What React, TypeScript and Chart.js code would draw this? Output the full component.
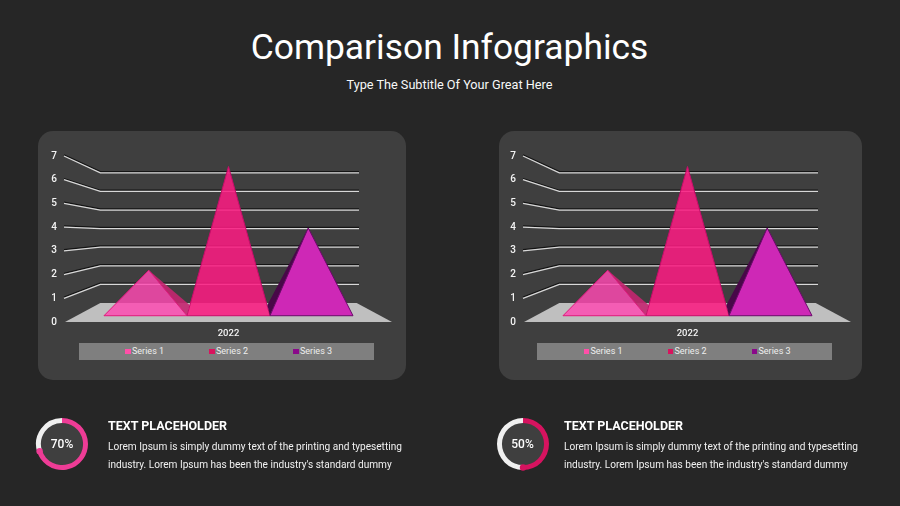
import { useEffect, useRef } from 'react'
import Chart from 'chart.js/auto'

const years = ['2022']
const seriesNames = ['Series 1', 'Series 2', 'Series 3']
const series1 = [2]
const series2 = [6.9]
const series3 = [4]
const yTicksMax = 7

const faceColors = ['rgba(255, 73, 178, 0.83)', 'rgba(250, 28, 130, 0.88)', 'rgb(206, 40, 182)']
const edgeColors = ['#e0187c', '#c80c6a', '#6a0a6a']
const sideColors = ['rgba(196, 38, 112, 0.9)', 'rgba(196, 12, 100, 0.9)', '#480848']
const legendColors = ['#ff4fa8', '#d8145e', '#8a0a8a']

const donutLeft = [70, 30]
const donutRight = [50, 50]

// depth 0 = front of the floor, 1 = back wall
const FLOOR_RISE = 19
const SHRINK = 0.216
const BASE_DEPTH = 0.33
const APEX_DEPTH = 0.5
const WALL_END = 359 - 65

const pyramidPlugin = {
  id: 'pyramids',
  beforeDatasetsDraw(chart: any) {
    const { ctx, chartArea, scales } = chart
    const y0 = scales.y.getPixelForValue(0)
    const midX = (chartArea.left + chartArea.right) / 2
    const planeY = (p: number, d: number) => y0 - FLOOR_RISE * d + (p - y0) * (1 - SHRINK * d)
    const planeX = (x: number, d: number) => midX + (x - midX) * (1 - SHRINK * d)

    // floor
    ctx.save()
    ctx.fillStyle = '#bfbfbf'
    ctx.beginPath()
    ctx.moveTo(chartArea.left, y0)
    ctx.lineTo(chartArea.right, y0)
    ctx.lineTo(planeX(chartArea.right, 1), planeY(y0, 1))
    ctx.lineTo(planeX(chartArea.left, 1), planeY(y0, 1))
    ctx.closePath()
    ctx.fill()

    // wall lines, with the dark shadow above them
    const backLeft = planeX(chartArea.left, 1)
    const backRight = backLeft + WALL_END - (backLeft - chartArea.left)
    scales.y.ticks.forEach((t: any) => {
      if (t.value === 0) return
      const front = scales.y.getPixelForValue(t.value)
      const back = planeY(front, 1)
      const stroke = (off: number, color: string) => {
        ctx.strokeStyle = color
        ctx.lineWidth = 1.3
        ctx.beginPath()
        ctx.moveTo(chartArea.left - 1, front + off)
        ctx.lineTo(backLeft, back + off)
        ctx.lineTo(backRight, back + off)
        ctx.stroke()
      }
      stroke(-1.2, '#141414')
      stroke(0, '#d8d8d8')
    })
    ctx.restore()
  },
  afterDatasetsDraw(chart: any) {
    const { ctx, chartArea, scales } = chart
    const y0 = scales.y.getPixelForValue(0)
    const midX = (chartArea.left + chartArea.right) / 2
    const planeY = (p: number, d: number) => y0 - FLOOR_RISE * d + (p - y0) * (1 - SHRINK * d)
    const planeX = (x: number, d: number) => midX + (x - midX) * (1 - SHRINK * d)

    chart.data.datasets.forEach((ds: any, i: number) => {
      const bar = chart.getDatasetMeta(i).data[0]
      const half = bar.width / 2
      const left = planeX(bar.x - half, BASE_DEPTH)
      const right = planeX(bar.x + half, BASE_DEPTH)
      const base = planeY(y0, BASE_DEPTH)
      const apexX = planeX(bar.x, APEX_DEPTH)
      const apexY = planeY(bar.y, APEX_DEPTH)
      const backY = planeY(y0, 0.9)

      // side face on the side that turns towards the middle
      if (i !== 1) {
        const edge = i === 0 ? bar.x + half : bar.x - half
        const near = i === 0 ? right : left
        ctx.fillStyle = sideColors[i]
        ctx.beginPath()
        ctx.moveTo(apexX, apexY)
        ctx.lineTo(planeX(edge, 0.6), backY)
        ctx.lineTo(near, base)
        ctx.closePath()
        ctx.fill()
      }

      ctx.fillStyle = ds.faceColor
      ctx.strokeStyle = edgeColors[i]
      ctx.lineWidth = 1
      ctx.lineJoin = 'round'
      ctx.beginPath()
      ctx.moveTo(apexX, apexY)
      ctx.lineTo(right, base)
      ctx.lineTo(left, base)
      ctx.closePath()
      ctx.fill()
      ctx.stroke()
    })
  },
}

// little round blob where the coloured arc ends
const arcEndPlugin = {
  id: 'arcEnd',
  afterDatasetsDraw(chart: any) {
    const arc = chart.getDatasetMeta(0).data[0]
    const r = (arc.innerRadius + arc.outerRadius) / 2
    const { ctx } = chart
    ctx.fillStyle = chart.data.datasets[0].backgroundColor[0]
    ctx.beginPath()
    ctx.arc(arc.x + Math.cos(arc.endAngle) * r, arc.y + Math.sin(arc.endAngle) * r, 3.2, 0, Math.PI * 2)
    ctx.fill()
  },
}

function PyramidChart({ x }: { x: number }) {
  const ref = useRef<HTMLCanvasElement>(null)

  useEffect(() => {
    if (!ref.current) return
    const values = [series1, series2, series3]
    const chart = new Chart(ref.current, {
      type: 'bar',
      data: {
        labels: years,
        datasets: seriesNames.map((name, i) => ({
          label: name,
          data: values[i],
          backgroundColor: 'transparent',
          faceColor: faceColors[i],
          barPercentage: 1,
          categoryPercentage: 0.82,
        })),
      } as any,
      options: {
        responsive: false,
        animation: false,
        layout: { padding: { top: 25, right: 14, bottom: 0, left: 0 } },
        plugins: { legend: { display: false }, tooltip: { enabled: false } },
        scales: {
          x: {
            grid: { display: false, drawTicks: false },
            border: { display: false },
            ticks: { color: '#f4f4f4', font: { family: 'Roboto', size: 9.5, weight: 500 }, padding: 6 },
            afterFit: (s: any) => { s.height = 28 },
          },
          y: {
            min: 0,
            max: yTicksMax,
            grid: { display: false, drawTicks: false },
            border: { display: false },
            ticks: { stepSize: 1, color: '#f4f4f4', font: { family: 'Roboto', size: 10, weight: 500 }, padding: 8 },
            afterFit: (s: any) => { s.width = 27 },
          },
        },
      },
      plugins: [pyramidPlugin],
    } as any)
    return () => chart.destroy()
  }, [])

  return <canvas ref={ref} width={368} height={219} style={{ position: 'absolute', left: x - 27, top: 131 }} />
}

function Donut({ cx, values, color, label }: { cx: number; values: number[]; color: string; label: string }) {
  const ref = useRef<HTMLCanvasElement>(null)

  useEffect(() => {
    if (!ref.current) return
    const chart = new Chart(ref.current, {
      type: 'doughnut',
      data: { datasets: [{ data: values, backgroundColor: [color, '#f0f0f0'], borderWidth: 0 }] },
      options: {
        responsive: false,
        animation: false,
        cutout: '81%',
        layout: { padding: 1 },
        plugins: { legend: { display: false }, tooltip: { enabled: false } },
      },
      plugins: [arcEndPlugin],
    })
    return () => chart.destroy()
  }, [])

  return (
    <div style={{ position: 'absolute', left: cx - 27, top: 417, width: 54, height: 54 }}>
      <div style={{ position: 'absolute', left: 5, top: 5, width: 44, height: 44, borderRadius: '50%', background: '#3f3f3f' }} />
      <canvas ref={ref} width={54} height={54} style={{ position: 'absolute', left: 0, top: 0 }} />
      <div style={{ position: 'absolute', left: 0, top: 0, width: 54, lineHeight: '54px', textAlign: 'center', color: '#fff', fontSize: 12, fontWeight: 500 }}>{label}</div>
    </div>
  )
}

function Panel({ left, width, chartX, legendX, legendW, itemStart }: { left: number; width: number; chartX: number; legendX: number; legendW: number; itemStart: number }) {
  return (
    <>
      <div style={{ position: 'absolute', left, top: 131, width, height: 249, borderRadius: 15, background: '#3f3f3f' }} />
      <PyramidChart x={chartX} />
      <div style={{ position: 'absolute', left: legendX, top: 343, width: legendW, height: 16.5, background: '#7f7f7f' }}>
        {seriesNames.map((name, i) => (
          <div key={name} style={{ position: 'absolute', left: itemStart + i * 84, top: 0, height: 16.5, display: 'flex', alignItems: 'center', color: '#eeeeee', fontSize: 9 }}>
            <span style={{ width: 5.5, height: 5.5, background: legendColors[i], marginRight: 1.5 }} />
            {name}
          </div>
        ))}
      </div>
    </>
  )
}

function Caption({ x }: { x: number }) {
  return (
    <div style={{ position: 'absolute', left: x, top: 418, width: 320, color: '#f0f0f0' }}>
      <div style={{ fontSize: 12.5, fontWeight: 700, color: '#fff', lineHeight: '16px' }}>TEXT PLACEHOLDER</div>
      <div style={{ fontSize: 10.1, lineHeight: '17.5px', marginTop: 4, whiteSpace: 'nowrap' }}>
        Lorem Ipsum is simply dummy text of the printing and typesetting
        <br />
        industry. Lorem Ipsum has been the industry's standard dummy
      </div>
    </div>
  )
}

export default function App() {
  return (
    <div style={{ position: 'fixed', left: 0, top: 0, width: 900, height: 506, overflow: 'hidden', background: '#262626', fontFamily: 'Roboto, sans-serif' }}>
      <div style={{ position: 'absolute', left: 0, top: 24, width: 899, textAlign: 'center', color: '#fff', fontSize: 35.4, lineHeight: '46px' }}>Comparison Infographics</div>
      <div style={{ position: 'absolute', left: 0, top: 76, width: 899, textAlign: 'center', color: '#f8f8f8', fontSize: 12.7, lineHeight: '18px' }}>Type The Subtitle Of Your Great Here</div>

      <Panel left={38} width={368} chartX={65} legendX={78.5} legendW={295.5} itemStart={46.5} />
      <Panel left={498.5} width={363} chartX={523.5} legendX={537} legendW={295} itemStart={46.5} />

      <Donut cx={62} values={donutLeft} color="#ee3c96" label="70%" />
      <Donut cx={522.5} values={donutRight} color="#d6135f" label="50%" />
      <Caption x={108} />
      <Caption x={564} />
    </div>
  )
}
